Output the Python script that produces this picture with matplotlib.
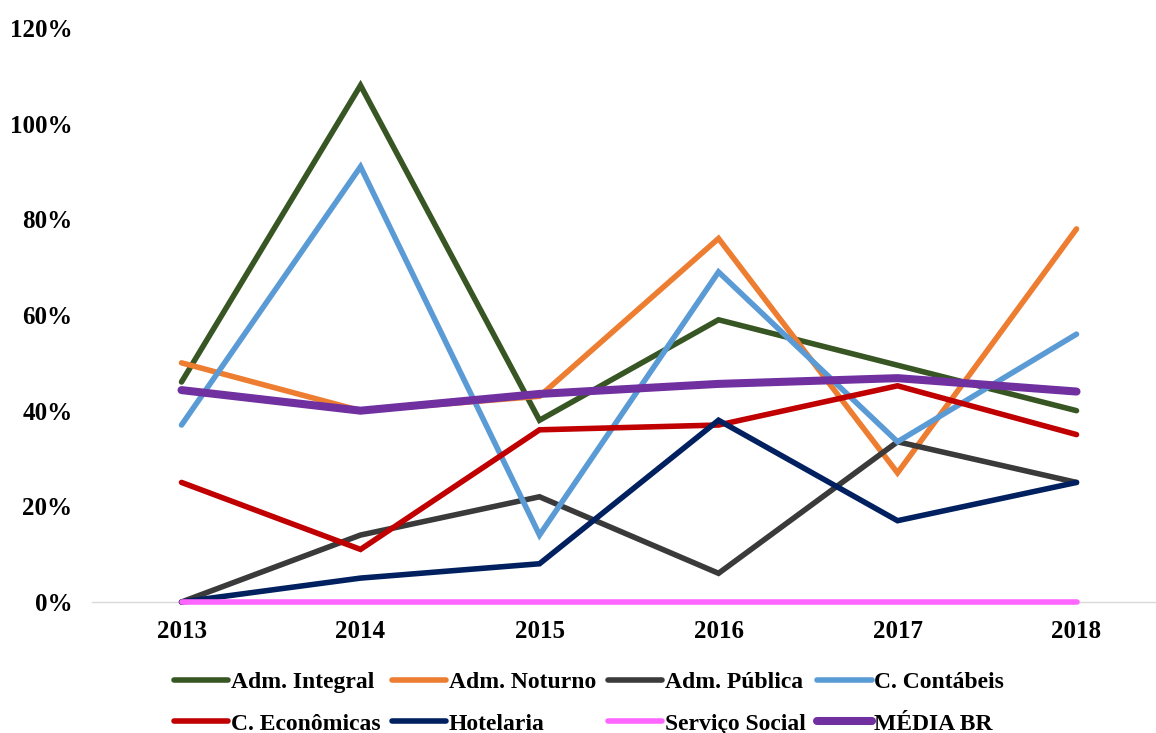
import matplotlib.pyplot as plt
import numpy as np

plt.rcParams['font.family'] = ['Liberation Serif', 'DejaVu Serif']
plt.rcParams['font.weight'] = 'bold'

years = ['2013', '2014', '2015', '2016', '2017', '2018']

adm_integral = [0.46, 1.08, 0.38, 0.59, 0.495, 0.40]
adm_noturno = [0.50, 0.40, 0.43, 0.76, 0.27, 0.78]
adm_publica = [0.0, 0.14, 0.22, 0.06, 0.335, 0.25]
c_contabeis = [0.37, 0.91, 0.14, 0.69, 0.335, 0.56]
c_economicas = [0.25, 0.11, 0.36, 0.37, 0.452, 0.35]
hotelaria = [0.0, 0.05, 0.08, 0.38, 0.17, 0.25]
servico_social = [0.0, 0.0, 0.0, 0.0, 0.0, 0.0]
media_br = [0.443, 0.40, 0.435, 0.456, 0.468, 0.44]

series = [
    ('Adm. Integral', adm_integral, '#375623', 4.0),
    ('Adm. Noturno', adm_noturno, '#ED7D31', 4.0),
    ('Adm. Pública', adm_publica, '#3A3A3A', 4.0),
    ('C. Contábeis', c_contabeis, '#5B9BD5', 4.0),
    ('C. Econômicas', c_economicas, '#C00000', 4.0),
    ('Hotelaria', hotelaria, '#002060', 4.0),
    ('Serviço Social', servico_social, '#FF66FF', 4.0),
    ('MÉDIA BR', media_br, '#7030A0', 5.8),
]

fig = plt.figure(figsize=(11.56, 7.33), dpi=100)
ax = fig.add_axes([0.0796, 0.1787, 0.9204, 0.7831])

x = np.arange(len(years))
lines = []
for name, vals, col, lw in series:
    ln, = ax.plot(x, vals, color=col, lw=lw, label=name, clip_on=False,
                  solid_capstyle='round', solid_joinstyle='miter')
    lines.append(ln)

ax.set_xlim(-0.5, 5.444)
ax.set_ylim(0, 1.2)
ax.set_yticks(np.arange(0, 1.21, 0.2))
ax.set_yticklabels([f'{int(round(v*100))}%' for v in np.arange(0, 1.21, 0.2)])
ax.set_xticks(x)
ax.set_xticklabels(years)
ax.tick_params(axis='both', length=0, labelsize=18)
ax.tick_params(axis='y', pad=14)
ax.tick_params(axis='x', pad=13)
for lab in ax.get_xticklabels() + ax.get_yticklabels():
    lab.set_fontweight('bold')

for s in ['top', 'right', 'left']:
    ax.spines[s].set_visible(False)
ax.spines['bottom'].set_color('#D9D9D9')
ax.spines['bottom'].set_linewidth(1.0)
ax.spines['bottom'].set_zorder(0)

# legend fills column-wise, so reorder to read row by row
order = [0, 4, 1, 5, 2, 6, 3, 7]
handles = [lines[i] for i in order]
labels = [series[i][0] for i in order]
leg = ax.legend(handles, labels, loc='center', bbox_to_anchor=(0.467, -0.176),
                ncol=4, frameon=False, handlelength=2.3,
                handletextpad=0.1, columnspacing=0.5, labelspacing=0.85,
                prop={'weight': 'bold', 'size': 17})

fig.savefig('out.png', dpi=100)
